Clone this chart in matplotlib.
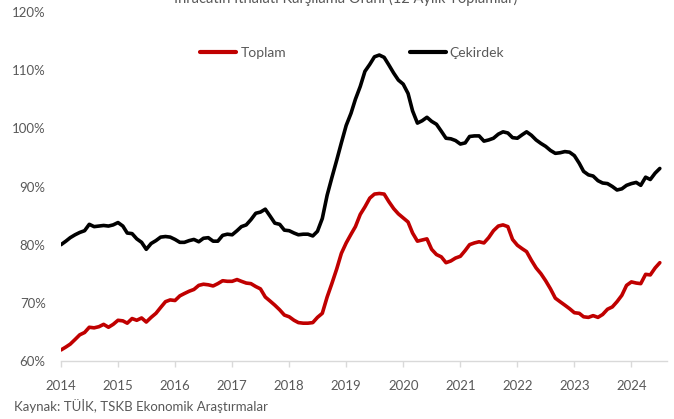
import matplotlib
matplotlib.use("Agg")
import matplotlib.pyplot as plt
import pandas as pd

# ---- data (monthly, Jan 2014 - Jul 2024), percent ----
start_month = "2014-01-01"
n_months = 127

cekirdek = [
    80.0, 80.6, 81.2, 81.7, 82.1, 82.4, 83.5, 83.1, 83.2, 83.3, 83.2, 83.4,
    83.8, 83.2, 82.0, 81.9, 81.0, 80.4, 79.2, 80.2, 80.7, 81.3, 81.4, 81.3,
    80.9, 80.4, 80.4, 80.7, 80.9, 80.5, 81.1, 81.2, 80.6, 80.6, 81.6, 81.8,
    81.7, 82.4, 83.1, 83.4, 84.3, 85.4, 85.6, 86.1, 84.9, 83.7, 83.5, 82.5,
    82.4, 82.0, 81.7, 81.8, 81.8, 81.5, 82.3, 84.5, 88.5, 91.5, 94.5, 97.5,
    100.5, 102.6, 105.0, 107.2, 109.8, 111.0, 112.3, 112.6, 112.2, 110.9, 109.5, 108.3,
    107.6, 106.0, 103.0, 100.9, 101.3, 101.9, 101.2, 100.7, 99.5, 98.3, 98.2, 97.9,
    97.3, 97.5, 98.6, 98.7, 98.7, 97.8, 98.0, 98.3, 99.0, 99.4, 99.2, 98.4,
    98.3, 98.9, 99.4, 98.8, 98.0, 97.4, 96.9, 96.2, 95.7, 95.8, 96.0, 95.9,
    95.3, 94.0, 92.6, 92.0, 91.8, 91.0, 90.6, 90.5, 90.0, 89.4, 89.6, 90.2,
    90.5, 90.7, 90.2, 91.6, 91.2, 92.3, 93.1,
]

toplam = [
    61.9, 62.4, 62.9, 63.7, 64.5, 64.9, 65.8, 65.7, 65.9, 66.3, 65.8, 66.3,
    67.0, 66.9, 66.5, 67.3, 67.0, 67.4, 66.7, 67.5, 68.2, 69.2, 70.2, 70.5,
    70.4, 71.2, 71.6, 72.0, 72.3, 73.0, 73.2, 73.1, 72.9, 73.3, 73.8, 73.7,
    73.7, 74.0, 73.7, 73.4, 73.3, 72.8, 72.4, 71.0, 70.3, 69.6, 68.8, 67.9,
    67.6, 67.0, 66.6, 66.5, 66.5, 66.6, 67.5, 68.2, 71.0, 73.3, 75.8, 78.5,
    80.3, 81.8, 83.1, 85.2, 86.5, 88.0, 88.7, 88.8, 88.7, 87.4, 86.2, 85.3,
    84.6, 83.9, 82.0, 80.6, 80.8, 81.0, 79.2, 78.3, 77.9, 76.9, 77.2, 77.7,
    78.0, 79.0, 80.0, 80.3, 80.5, 80.3, 81.2, 82.4, 83.2, 83.4, 83.1, 80.9,
    79.9, 79.3, 78.8, 77.3, 76.0, 75.0, 73.8, 72.4, 70.8, 70.2, 69.6, 69.0,
    68.3, 68.2, 67.6, 67.5, 67.8, 67.5, 68.0, 68.9, 69.3, 70.2, 71.3, 73.0,
    73.6, 73.4, 73.3, 74.9, 74.8, 76.0, 76.9,
]

series_names = ["Toplam", "Çekirdek"]
year_labels = [str(y) for y in range(2014, 2025)]
y_ticks = [60, 70, 80, 90, 100, 110, 120]

title = "İhracatın İthalatı Karşılama Oranı (12 Aylık Toplamlar)"
source = "Kaynak: TÜİK, TSKB Ekonomik Araştırmalar"

# ---- figure ----
W, H = 674, 419
plt.rcParams['font.family'] = ['Lato', 'DejaVu Sans']
fig = plt.figure(figsize=(W / 100, H / 100), dpi=100)
ax = fig.add_axes([61 / W, 1 - 361 / H, (667 - 61) / W, (361 - 12) / H])

dates = pd.date_range(start_month, periods=n_months, freq="MS")
grey = "#595959"
red = "#C00000"

ax.plot(dates, toplam, color=red, lw=2.6, solid_capstyle="round",
        solid_joinstyle="round", label=series_names[0])
ax.plot(dates, cekirdek, color="black", lw=2.6, solid_capstyle="round",
        solid_joinstyle="round", label=series_names[1])

ax.set_ylim(60, 120)
ax.set_yticks(y_ticks)
ax.set_yticklabels([f"{v}%" for v in y_ticks])

tick_dates = [pd.Timestamp(f"{y}-01-01") for y in year_labels]
ax.set_xticks(tick_dates)
ax.set_xticklabels(year_labels)
ax.set_xlim(pd.Timestamp("2014-01-01"), pd.Timestamp("2024-08-16"))

for s in ["top", "right", "left"]:
    ax.spines[s].set_visible(False)
ax.spines["bottom"].set_color("#D9D9D9")
ax.spines["bottom"].set_linewidth(1.0)

ax.tick_params(axis="x", colors="#D9D9D9", length=4.5, width=1.0,
               labelcolor=grey, labelsize=9.5, pad=9)
ax.tick_params(axis="y", length=0, labelcolor=grey, labelsize=9.5, pad=11)

leg = fig.legend(loc="center left", bbox_to_anchor=(200 / W, 1 - 53 / H),
                 ncol=2, frameon=False, fontsize=10, handlelength=2.6,
                 handletextpad=0.3, columnspacing=8.9, borderpad=0,
                 borderaxespad=0)
for t in leg.get_texts():
    t.set_color(grey)
for l in leg.get_lines():
    l.set_linewidth(3.0)

fig.text(346 / W, 1 - 3.5 / H, title, ha="center", va="baseline",
         fontsize=10.5, color=grey)
fig.text(14 / W, 1 - 406 / H, source, ha="left", va="center",
         fontsize=9.5, color=grey)

fig.savefig("out.png", dpi=100)
